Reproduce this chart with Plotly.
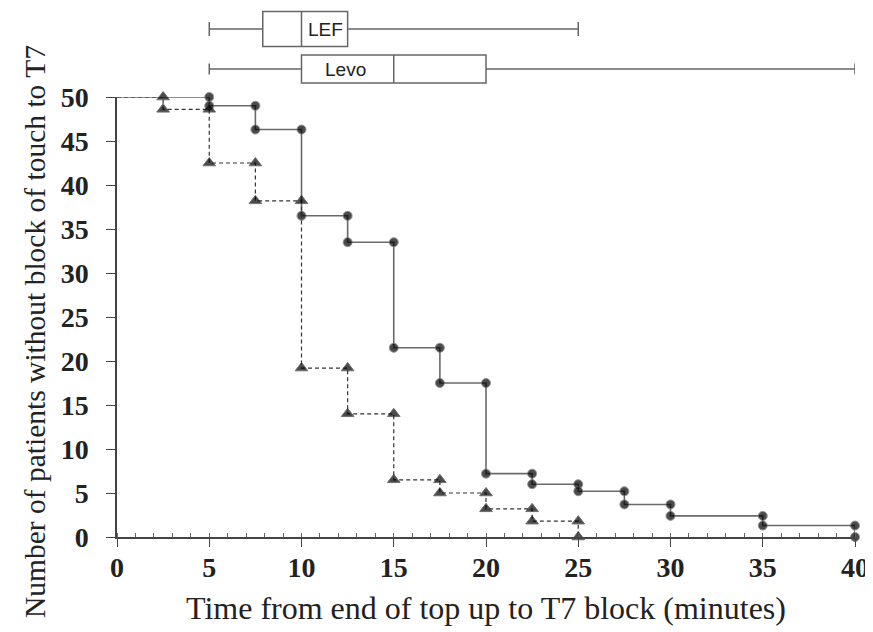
import plotly.graph_objects as go

# ---------------- data ----------------
levo_times = [5, 7.5, 10, 12.5, 15, 17.5, 20, 22.5, 25, 27.5, 30, 35, 40]
levo_levels = [50, 49, 46.3, 36.5, 33.5, 21.5, 17.5, 7.2, 6.0, 5.2, 3.7, 2.4, 1.3, 0]

lef_times = [2.5, 5, 7.5, 10, 12.5, 15, 17.5, 20, 22.5, 25]
lef_levels = [50, 48.6, 42.5, 38.2, 19.2, 14.0, 6.5, 5.0, 3.2, 1.8, 0]

box_groups = ["LEF", "Levo"]
box_min = [5, 5]
box_q1 = [7.9, 10]
box_median = [10, 15]
box_q3 = [12.5, 20]
box_max = [25, 40]

x_ticks = [0, 5, 10, 15, 20, 25, 30, 35, 40]
y_ticks = [0, 5, 10, 15, 20, 25, 30, 35, 40, 45, 50]

# ---------------- layout constants ----------------
# the page body adds an 8px offset, so the figure is drawn 8px smaller
OFF = 8
W, H = 873 - OFF, 632 - OFF
ML = 117 - OFF          # x = 0 at reference pixel 117
MR = W - (855 - OFF)    # x = 40 at reference pixel 855
MB = H - (537 - OFF)    # y = 0 at reference pixel 537
MT = 2
PW, PH = W - ML - MR, H - MT - MB
Y_TOP_PX = 97 - OFF      # y = 50 at reference pixel 97
STRIP_BOT_PX = 94 - OFF  # lower edge of the box strip
box_pos = {"LEF": 29 - OFF, "Levo": 69 - OFF}
box_width = {"LEF": 35, "Levo": 28}
box_label_x = {"LEF": 11.3, "Levo": 12.4}


def px_to_paper_x(px):
    return (px - OFF - ML) / PW


def px_to_paper_y(py):
    return (H - MB - (py - OFF)) / PH


def steps(times, levels):
    xs, ys, sz = [0], [levels[0]], [0]
    for i, t in enumerate(times):
        xs += [t, t]
        ys += [levels[i], levels[i + 1]]
        sz += [1, 1]
    return xs, ys, sz


fig = go.Figure()

lx, ly, ls = steps(levo_times, levo_levels)
fig.add_trace(go.Scatter(
    x=lx, y=ly, mode="lines+markers",
    line=dict(color="#6a6a6a", width=1.6),
    marker=dict(symbol="circle", color="black", size=[9 * s for s in ls]),
    cliponaxis=False, showlegend=False, name="Levo"))

ex, ey, es = steps(lef_times, lef_levels)
fig.add_trace(go.Scatter(
    x=ex, y=ey, mode="lines+markers",
    line=dict(color="#333333", width=1.2, dash="4px,3px"),
    marker=dict(symbol="triangle-up", color="black", size=[11 * s for s in es]),
    cliponaxis=False, showlegend=False, name="LEF"))

for i, g in enumerate(box_groups):
    fig.add_trace(go.Box(
        orientation="h", y=[box_pos[g]],
        q1=[box_q1[i]], median=[box_median[i]], q3=[box_q3[i]],
        lowerfence=[box_min[i]], upperfence=[box_max[i]],
        width=box_width[g], whiskerwidth=0.4,
        line=dict(color="#666666", width=1.5), fillcolor="white",
        boxpoints=False, showlegend=False, name=g,
        xaxis="x", yaxis="y2"))
    fig.add_annotation(x=box_label_x[g], y=box_pos[g], xref="x", yref="y2",
                       text=g, showarrow=False,
                       font=dict(family="Liberation Sans", size=19, color="#222"))

serif = "Liberation Serif"
fig.add_annotation(x=px_to_paper_x(486), y=px_to_paper_y(608), xref="paper", yref="paper",
                   text="Time from end of top up to T7 block (minutes)", showarrow=False,
                   xanchor="center", yanchor="middle",
                   font=dict(family=serif, size=32, color="#222"))
fig.add_annotation(x=px_to_paper_x(35), y=px_to_paper_y(332), xref="paper", yref="paper",
                   text="Number of patients without block of touch to T7", showarrow=False,
                   textangle=-90, xanchor="center", yanchor="middle",
                   font=dict(family=serif, size=29.5, color="#222"))

ydom_top = (H - MB - Y_TOP_PX) / PH
y2dom_bot = (H - MB - STRIP_BOT_PX) / PH

fig.update_layout(
    width=W, height=H,
    margin=dict(l=ML, r=MR, t=MT, b=MB, autoexpand=False),
    paper_bgcolor="white", plot_bgcolor="white",
    xaxis=dict(range=[0, 40], tickvals=x_ticks, ticktext=[str(v) for v in x_ticks],
               showgrid=False, zeroline=False, showline=True, linecolor="#444", linewidth=1.5,
               ticks="outside", ticklen=8, tickwidth=1.3, tickcolor="#444",
               minor=dict(dtick=1, ticks="inside", ticklen=4, tickcolor="#666", tickwidth=1),
               tickfont=dict(family=serif, size=28, color="#222", weight="bold"),
               anchor="y", ticklabelstandoff=-3, automargin=False),
    yaxis=dict(domain=[0, ydom_top], range=[0, 50], tickvals=y_ticks,
               ticktext=[str(v) for v in y_ticks],
               showgrid=False, zeroline=False, showline=True, linecolor="#444", linewidth=1.5,
               ticks="outside", ticklen=9, tickwidth=1.3, tickcolor="#444",
               tickfont=dict(family=serif, size=28, color="#222", weight="bold"),
               anchor="x", ticklabelstandoff=12, automargin=False),
    yaxis2=dict(domain=[y2dom_bot, 1], range=[H - MB - y2dom_bot * PH, MT],
                visible=False, anchor="x", showgrid=False, zeroline=False),
)

fig.write_html("out.html")
